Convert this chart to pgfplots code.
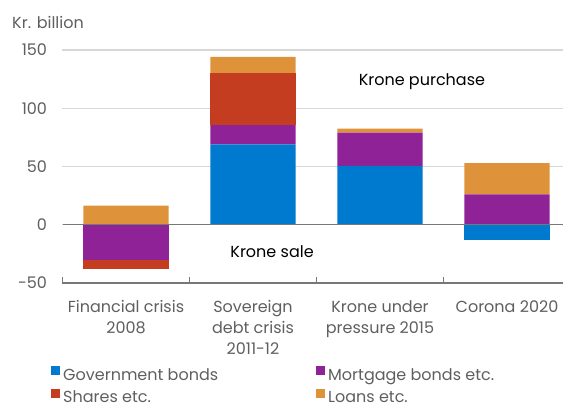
\documentclass[border=0pt]{standalone}
\usepackage{pgfplots}
\pgfplotsset{compat=1.18}
\usepackage{fontspec}
\setmainfont{Poppins}

\definecolor{govblue}{RGB}{0,122,207}
\definecolor{mortpurple}{RGB}{142,34,150}
\definecolor{sharered}{RGB}{196,61,33}
\definecolor{loanorange}{RGB}{222,147,58}
\definecolor{txtgray}{RGB}{95,95,95}
\definecolor{gridgray}{RGB}{215,215,215}
\definecolor{axgray}{RGB}{120,120,120}

\newcommand{\chartfont}{\fontsize{16}{21}\selectfont}

\pgfplotsset{
  frame/.style={
    at={(62.5pt,124pt)}, anchor=south west,
    scale only axis, width=508pt, height=233pt,
    xmin=-0.5, xmax=3.5, ymin=-50, ymax=150,
    ybar stacked, bar width=0.67,
  },
}

\begin{document}
\begin{tikzpicture}
\path[use as bounding box] (0,0) rectangle (563pt,407pt);

\node[anchor=west, inner sep=0pt, font=\chartfont, text=txtgray] at (12pt,385pt) {Kr. billion};

% positive side of each bar
\begin{axis}[frame,
  axis x line*=bottom, axis y line*=left,
  y axis line style={draw=none},
  x axis line style={axgray, line width=1.1pt},
  ytick={-50,0,50,100,150},
  ymajorgrids, grid style={gridgray, line width=1.1pt},
  major tick length=0pt, minor tick length=6pt, tick align=inside,
  xtick={0,1,2,3},
  minor xtick={-0.5,0.5,1.5,2.5,3.5},
  xtick style={axgray, line width=1pt},
  xticklabels={Financial crisis\\2008, Sovereign\\debt crisis\\2011-12, Krone under\\pressure 2015, Corona 2020},
  xticklabel style={align=center, font=\chartfont, text=txtgray, yshift=-14pt},
  yticklabel style={font=\chartfont, text=txtgray, /pgf/number format/assume math mode=true, xshift=-12pt},
  legend columns=2,
  legend style={draw=none, fill=none, inner sep=0pt, column sep=0pt, row sep=7pt,
    at={(-0.0226,-0.355)}, anchor=north west, font=\chartfont,
    nodes={text=txtgray, inner xsep=3pt, inner ysep=0pt}},
  legend cell align=left,
  legend image code/.code={\fill[#1, draw=none] (0pt,0pt) rectangle (9pt,9pt);},
]
\addplot[fill=govblue, draw=none] coordinates {(0,0) (1,69) (2,50.5) (3,0)};
\addlegendentry{\makebox[250pt][l]{Government bonds}}
\addplot[fill=mortpurple, draw=none] coordinates {(0,0) (1,16.5) (2,28.5) (3,26)};
\addlegendentry{Mortgage bonds etc.}
\addplot[fill=sharered, draw=none] coordinates {(0,0) (1,44.5) (2,0) (3,0)};
\addlegendentry{\makebox[250pt][l]{Shares etc.}}
\addplot[fill=loanorange, draw=none] coordinates {(0,16.5) (1,14) (2,3.5) (3,27)};
\addlegendentry{Loans etc.}

\node[font=\chartfont, text=black] at (axis cs:2.33,122.6) {Krone purchase};
\node[font=\chartfont, text=black] at (axis cs:1.15,-23) {Krone sale};
\end{axis}

% negative side of each bar
\begin{axis}[frame, hide axis]
\addplot[fill=govblue, draw=none] coordinates {(0,0) (1,0) (2,0) (3,-13)};
\addplot[fill=mortpurple, draw=none] coordinates {(0,-30) (1,0) (2,0) (3,0)};
\addplot[fill=sharered, draw=none] coordinates {(0,-8) (1,0) (2,0) (3,0)};
\draw[axgray, line width=1.1pt] (axis cs:-0.5,0) -- (axis cs:3.5,0);
\end{axis}
\end{tikzpicture}
\end{document}
